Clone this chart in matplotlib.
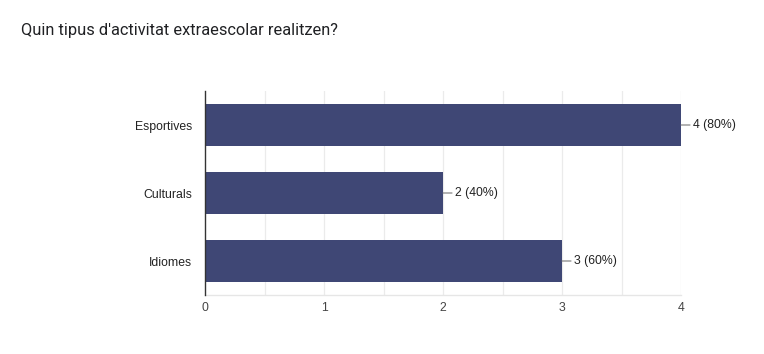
import matplotlib
matplotlib.use("Agg")
import matplotlib.pyplot as plt
import numpy as np

title = "Quin tipus d'activitat extraescolar realitzen?"
categories = ["Esportives", "Culturals", "Idiomes"]
counts = [4, 2, 3]
percents = [80, 40, 60]
xticks = [0, 1, 2, 3, 4]

fig = plt.figure(figsize=(7.64, 3.54), dpi=100)
ax = fig.add_axes([205/764, 59/354, 476/764, 204/354])

bar_color = "#3f4775"
fam = ["Liberation Sans", "DejaVu Sans"]
y = np.arange(len(categories))
ax.barh(y, counts, height=0.62, color=bar_color, zorder=3)

ax.set_ylim(len(categories) - 0.5, -0.5)
ax.set_xlim(0, 4)

# gridlines at 0.5 steps
for g in np.arange(0.5, 4.01, 0.5):
    ax.axvline(g, color="#ebebeb", lw=0.9, zorder=1)

for i, (c, p) in enumerate(zip(counts, percents)):
    ax.annotate(f"{c} ({p}%)", xy=(c, i), xytext=(8.5, 0), textcoords="offset points",
                va="center", ha="left", fontsize=8.8, color="#222222",
                family=fam,
                arrowprops=dict(arrowstyle="-", color="#777777", lw=0.8,
                                shrinkA=0, shrinkB=0),
                annotation_clip=False)

ax.set_yticks(y)
ax.set_yticklabels(categories, fontsize=8.8, color="#222222", family=fam)
ax.set_xticks(xticks)
ax.set_xticklabels([str(t) for t in xticks], fontsize=8.8, color="#444444", family=fam)
ax.tick_params(axis="both", length=0)
ax.tick_params(axis="y", pad=9)
ax.tick_params(axis="x", pad=5)

for s in ["top", "right"]:
    ax.spines[s].set_visible(False)
ax.spines["left"].set_color("#333333")
ax.spines["left"].set_linewidth(1.0)
ax.spines["left"].set_zorder(5)
ax.spines["bottom"].set_color("#e6e6e6")
ax.spines["bottom"].set_linewidth(1.0)

fig.text(21/764, 1 - 31/354, title, fontsize=11.8, color="#202124",
         family=["Roboto", "DejaVu Sans"], va="center", ha="left")

fig.savefig("out.png", dpi=100, facecolor="white")
